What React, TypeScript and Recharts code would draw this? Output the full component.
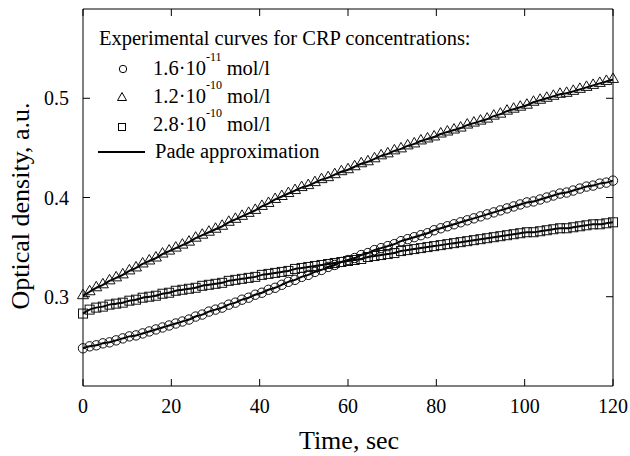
import { ComposedChart, Line, XAxis, YAxis } from 'recharts';

const FONT = '"Liberation Serif", "Times New Roman", serif';

// time, sec (every 1.5 s)
const time = [
  0, 1.5, 3, 4.5, 6, 7.5, 9, 10.5, 12, 13.5, 15, 16.5, 18, 19.5, 21, 22.5, 24, 25.5, 27, 28.5,
  30, 31.5, 33, 34.5, 36, 37.5, 39, 40.5, 42, 43.5, 45, 46.5, 48, 49.5, 51, 52.5, 54, 55.5, 57, 58.5,
  60, 61.5, 63, 64.5, 66, 67.5, 69, 70.5, 72, 73.5, 75, 76.5, 78, 79.5, 81, 82.5, 84, 85.5, 87, 88.5,
  90, 91.5, 93, 94.5, 96, 97.5, 99, 100.5, 102, 103.5, 105, 106.5, 108, 109.5, 111, 112.5, 114, 115.5, 117, 118.5,
  120,
];

// 1.6·10^-11 mol/l (circles)
const conc16e11 = [
  0.248, 0.250, 0.251, 0.253, 0.254, 0.256, 0.258, 0.260, 0.261, 0.263, 0.265, 0.267, 0.269, 0.271, 0.273, 0.275,
  0.277, 0.280, 0.282, 0.285, 0.287, 0.289, 0.292, 0.294, 0.297, 0.299, 0.302, 0.304, 0.307, 0.309, 0.312,
  0.315, 0.317, 0.320, 0.322, 0.325, 0.327, 0.330, 0.332, 0.335, 0.337, 0.339, 0.342, 0.344, 0.347, 0.349,
  0.351, 0.353, 0.356, 0.358, 0.360, 0.362, 0.364, 0.367, 0.369, 0.371, 0.373, 0.375, 0.377, 0.379, 0.381,
  0.383, 0.385, 0.387, 0.389, 0.391, 0.393, 0.395, 0.396, 0.398, 0.400, 0.402, 0.404, 0.405, 0.407, 0.409,
  0.411, 0.412, 0.414, 0.415, 0.417,
];

// 1.2·10^-10 mol/l (triangles)
const conc12e10 = [
  0.301, 0.305, 0.309, 0.312, 0.316, 0.319, 0.322, 0.326, 0.329, 0.333, 0.336, 0.339, 0.343, 0.346, 0.349, 0.352,
  0.355, 0.359, 0.362, 0.365, 0.368, 0.371, 0.375, 0.378, 0.381, 0.384, 0.387, 0.391, 0.394, 0.398, 0.401,
  0.404, 0.407, 0.410, 0.412, 0.415, 0.418, 0.420, 0.423, 0.426, 0.428, 0.431, 0.434, 0.436, 0.439, 0.442,
  0.444, 0.447, 0.449, 0.452, 0.454, 0.457, 0.459, 0.461, 0.464, 0.466, 0.468, 0.470, 0.473, 0.475, 0.477,
  0.479, 0.482, 0.484, 0.487, 0.489, 0.491, 0.493, 0.496, 0.498, 0.500, 0.502, 0.504, 0.505, 0.507, 0.509,
  0.511, 0.513, 0.515, 0.517, 0.519,
];

// 2.8·10^-10 mol/l (squares)
const conc28e10 = [
  0.283, 0.287, 0.289, 0.290, 0.292, 0.293, 0.294, 0.296, 0.297, 0.299, 0.300, 0.301, 0.303, 0.304, 0.306, 0.307,
  0.308, 0.309, 0.311, 0.312, 0.313, 0.314, 0.316, 0.317, 0.318, 0.319, 0.320, 0.322, 0.323, 0.324, 0.325,
  0.326, 0.328, 0.329, 0.330, 0.331, 0.332, 0.333, 0.334, 0.335, 0.336, 0.337, 0.338, 0.340, 0.341, 0.342,
  0.343, 0.344, 0.346, 0.347, 0.348, 0.349, 0.350, 0.351, 0.352, 0.353, 0.354, 0.355, 0.356, 0.357, 0.358,
  0.359, 0.360, 0.361, 0.362, 0.363, 0.364, 0.365, 0.365, 0.366, 0.367, 0.368, 0.369, 0.369, 0.370, 0.371,
  0.372, 0.373, 0.373, 0.374, 0.375,
];

const xTicks = [0, 20, 40, 60, 80, 100, 120];
const yTicks = [0.3, 0.4, 0.5];
const xDomain = [0, 120];
const yDomain = [0.21, 0.59];

const data = time.map((t, i) => ({ t, a: conc16e11[i], b: conc12e10[i], c: conc28e10[i] }));

const TICK = 7;
const textStyle = { fontFamily: FONT };

const BottomTick = (p: any) => (
  <g>
    <line x1={p.x} x2={p.x} y1={p.y} y2={p.y - TICK} stroke="#000" />
    <text x={p.x} y={p.y + 27} textAnchor="middle" fontSize={20} style={textStyle} fill="#000">
      {p.payload.value}
    </text>
  </g>
);
const TopTick = (p: any) => <line x1={p.x} x2={p.x} y1={p.y} y2={p.y + TICK} stroke="#000" />;
const LeftTick = (p: any) => (
  <g>
    <line x1={p.x} x2={p.x + TICK} y1={p.y} y2={p.y} stroke="#000" />
    <text x={p.x - 14} y={p.y + 7} textAnchor="end" fontSize={20} style={textStyle} fill="#000">
      {p.payload.value}
    </text>
  </g>
);
const RightTick = (p: any) => <line x1={p.x} x2={p.x - TICK} y1={p.y} y2={p.y} stroke="#000" />;

const circleDot = (p: any) => (
  <circle key={`a${p.index}`} cx={p.cx} cy={p.cy} r={4.7} fill="none" stroke="#111" strokeWidth={1} />
);
const triDot = (p: any) => (
  <path
    key={`b${p.index}`}
    d={`M${p.cx},${p.cy - 6.5}L${p.cx + 5.5},${p.cy + 3}L${p.cx - 5.5},${p.cy + 3}Z`}
    fill="none"
    stroke="#111"
    strokeWidth={1}
  />
);
const squareDot = (p: any) => (
  <rect key={`c${p.index}`} x={p.cx - 4.5} y={p.cy - 4.5} width={9} height={9} fill="none" stroke="#111" strokeWidth={1} />
);

function Legend() {
  const fs = 20.5;
  const sup = (base: string, exp: string, y: number) => (
    <text x={153} y={y} fontSize={fs} style={textStyle} fill="#000">
      {base}
      <tspan dy={-14} fontSize={12}>{exp}</tspan>
      <tspan dy={14} fontSize={fs}> mol/l</tspan>
    </text>
  );
  return (
    <g>
      <text x={99} y={45} fontSize={fs} style={textStyle} fill="#000">
        Experimental curves for CRP concentrations:
      </text>
      <circle cx={123} cy={69} r={3.7} fill="none" stroke="#000" />
      {sup('1.6·10', '-11', 75)}
      <path d="M122,92.5L126.5,100.5L117.5,100.5Z" fill="none" stroke="#000" />
      {sup('1.2·10', '-10', 103)}
      <rect x={118.5} y={123.5} width={7} height={7} fill="none" stroke="#000" />
      {sup('2.8·10', '-10', 131)}
      <line x1={98} x2={145} y1={152} y2={152} stroke="#000" strokeWidth={2} />
      <text x={155} y={158} fontSize={fs} style={textStyle} fill="#000">
        Pade approximation
      </text>
    </g>
  );
}

export default function App() {
  return (
    <div style={{ position: 'relative', width: 630, height: 456, background: '#fff' }}>
      <style>{'body{margin:0;}'}</style>
      <ComposedChart width={630} height={456} data={data} margin={{ top: 8, right: 16, bottom: 69, left: 82 }}>
        <XAxis
          dataKey="t"
          type="number"
          domain={xDomain}
          ticks={xTicks}
          interval={0}
          height={1}
          tickSize={0}
          tickMargin={0}
          tick={BottomTick}
          axisLine={{ stroke: '#000' }}
        />
        <XAxis
          xAxisId="top"
          orientation="top"
          dataKey="t"
          type="number"
          domain={xDomain}
          ticks={xTicks}
          interval={0}
          height={1}
          tickSize={0}
          tickMargin={0}
          tick={TopTick}
          axisLine={{ stroke: '#000' }}
        />
        <YAxis
          type="number"
          domain={yDomain}
          ticks={yTicks}
          interval={0}
          width={1}
          tickSize={0}
          tickMargin={0}
          tick={LeftTick}
          allowDataOverflow
          axisLine={{ stroke: '#000' }}
        />
        <YAxis
          yAxisId="right"
          orientation="right"
          type="number"
          domain={yDomain}
          ticks={yTicks}
          interval={0}
          width={1}
          tickSize={0}
          tickMargin={0}
          tick={RightTick}
          allowDataOverflow
          axisLine={{ stroke: '#000' }}
        />
        <Line dataKey="a" stroke="none" dot={circleDot} activeDot={false} isAnimationActive={false} />
        <Line dataKey="b" stroke="none" dot={triDot} activeDot={false} isAnimationActive={false} />
        <Line dataKey="c" stroke="none" dot={squareDot} activeDot={false} isAnimationActive={false} />
        <Line type="monotone" dataKey="a" stroke="#000" strokeWidth={2} dot={false} activeDot={false} isAnimationActive={false} />
        <Line type="monotone" dataKey="b" stroke="#000" strokeWidth={2} dot={false} activeDot={false} isAnimationActive={false} />
        <Line type="monotone" dataKey="c" stroke="#000" strokeWidth={2} dot={false} activeDot={false} isAnimationActive={false} />
      </ComposedChart>
      <svg width={630} height={456} style={{ position: 'absolute', left: 0, top: 0, pointerEvents: 'none' }}>
        <Legend />
        <text transform="translate(29,206) rotate(-90)" textAnchor="middle" fontSize={26} style={textStyle} fill="#000">
          Optical density, a.u.
        </text>
        <text x={349} y={449} textAnchor="middle" fontSize={26} style={textStyle} fill="#000">
          Time, sec
        </text>
      </svg>
    </div>
  );
}
